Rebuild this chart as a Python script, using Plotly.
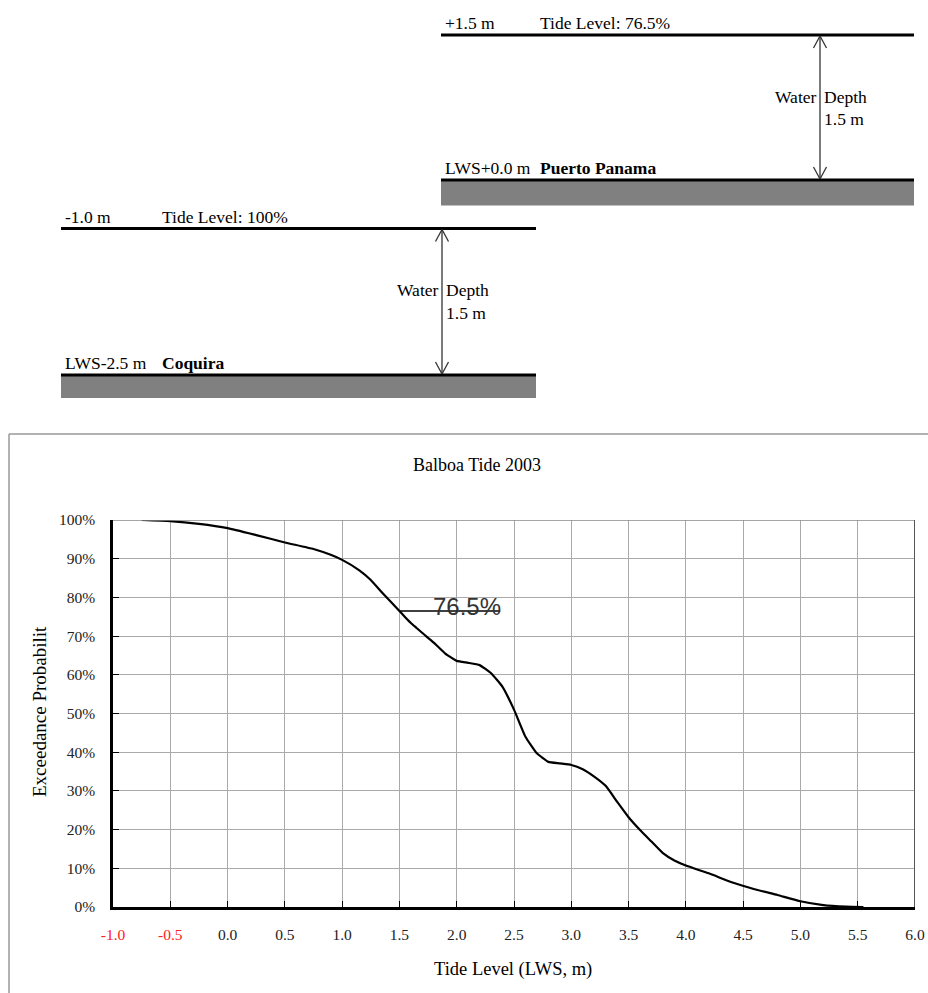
import plotly.graph_objects as go

# ---------------- data ----------------
tide_level = [-0.75, -0.5, -0.25, 0.0, 0.25, 0.5, 0.75, 0.9, 1.0, 1.15, 1.25, 1.35, 1.5,
              1.55, 1.6, 1.65, 1.7, 1.8, 1.9, 2.0, 2.1, 2.2, 2.3, 2.4, 2.5, 2.6, 2.7, 2.8, 2.9, 3.0,
              3.1, 3.2, 3.3, 3.4, 3.5, 3.6, 3.7, 3.8, 3.9, 4.0, 4.2, 4.4, 4.6, 4.8, 5.0,
              5.2, 5.4, 5.55]
exceedance = [100.0, 99.7, 99.0, 97.9, 96.1, 94.2, 92.5, 91.0, 89.7, 87.0, 84.5, 81.2, 76.5,
              74.9, 73.4, 72.1, 70.8, 68.3, 65.5, 63.6, 63.1, 62.5, 60.4, 56.9, 51.0, 44.0, 39.7, 37.5, 37.1, 36.7,
              35.6, 33.7, 31.3, 27.2, 23.2, 19.9, 16.9, 13.9, 12.0, 10.7, 8.7, 6.4, 4.6, 3.1, 1.5,
              0.5, 0.1, 0.0]

marker_level = 1.5
marker_prob = 76.5
marker_line_end = 2.38
marker_label = "76.5%"

x_ticks = [-1.0, -0.5, 0.0, 0.5, 1.0, 1.5, 2.0, 2.5, 3.0, 3.5, 4.0, 4.5, 5.0, 5.5, 6.0]
x_ticktext = ['<span style="color:#ff2020">-1.0</span>', '<span style="color:#ff2020">-0.5</span>',
              "0.0", "0.5", "1.0", "1.5", "2.0", "2.5", "3.0", "3.5", "4.0", "4.5", "5.0", "5.5", "6.0"]
y_ticks = [0, 10, 20, 30, 40, 50, 60, 70, 80, 90, 100]
y_ticktext = ["0%", "10%", "20%", "30%", "40%", "50%", "60%", "70%", "80%", "90%", "100%"]

chart_title = "Balboa Tide 2003"
x_title = "Tide Level (LWS, m)"
y_title = "Exceedance Probabilit"

W, H = 928, 993
SERIF = "Liberation Serif, Times New Roman, serif"


def px(x):
    return x / W


def py(y):
    return 1 - y / H


fig = go.Figure()
fig.add_trace(go.Scatter(x=tide_level, y=exceedance, mode="lines",
                         line=dict(color="black", width=2.2, shape="spline", smoothing=0.4),
                         showlegend=False, hoverinfo="skip"))
fig.add_trace(go.Scatter(x=[marker_level, marker_line_end], y=[marker_prob, marker_prob], mode="lines",
                         line=dict(color="black", width=1.5), showlegend=False, hoverinfo="skip"))

shapes = []
annotations = []


def hline(x0, x1, y, w=3, color="black"):
    shapes.append(dict(type="line", xref="paper", yref="paper", x0=px(x0), x1=px(x1),
                       y0=py(y), y1=py(y), line=dict(color=color, width=w)))


def vline(x, y0, y1, w=1.3, color="#333333"):
    shapes.append(dict(type="line", xref="paper", yref="paper", x0=px(x), x1=px(x),
                       y0=py(y0), y1=py(y1), line=dict(color=color, width=w)))


def rect(x0, y0, x1, y1, fill):
    shapes.append(dict(type="rect", xref="paper", yref="paper", x0=px(x0), x1=px(x1),
                       y0=py(y1), y1=py(y0), fillcolor=fill, line=dict(width=0)))


def vhead(x, ytip, direction):
    # open V arrow head
    d = 12 * direction
    for dx in (-6.5, 6.5):
        shapes.append(dict(type="line", xref="paper", yref="paper", x0=px(x), y0=py(ytip),
                           x1=px(x + dx), y1=py(ytip + d), line=dict(color="#333333", width=1.3)))


def text(x, y, s, anchor="left", size=17.5, font=SERIF, color="black", angle=0):
    annotations.append(dict(xref="paper", yref="paper", x=px(x), y=py(y), text=s, showarrow=False,
                            xanchor=anchor, yanchor="middle", textangle=angle,
                            font=dict(family=font, size=size, color=color)))


# ---- Puerto Panama block ----
hline(441, 914, 35)
rect(441, 181, 914, 205.5, "#808080")
hline(441, 914, 180)
vline(820, 37, 178)
vhead(820, 36, 1)
vhead(820, 179, -1)
text(443, 23, "+1.5 m")
text(538, 23, "Tide Level: 76.5%")
text(819, 97, "Water", anchor="right")
text(822, 97, "Depth")
text(822, 119, "1.5 m")
text(443, 168, "LWS+0.0 m")
text(538, 168, "<b>Puerto Panama</b>")

# ---- Coquira block ----
hline(61, 536, 228.5)
rect(61, 376, 536, 398, "#808080")
hline(61, 536, 375)
vline(442, 230, 373)
vhead(442, 229.5, 1)
vhead(442, 374, -1)
text(63, 217, "-1.0 m")
text(160, 217, "Tide Level: 100%")
text(441, 290, "Water", anchor="right")
text(444, 290, "Depth")
text(444, 313, "1.5 m")
text(63, 363, "LWS-2.5 m")
text(160, 363, "<b>Coquira</b>")

# ---- chart frame ----
hline(9, 928, 434, w=1.5, color="#999999")
vline(9, 434, 993, w=1.5, color="#999999")

# plot top / right borders
shapes.append(dict(type="line", xref="x", yref="y", x0=-1, x1=6, y0=100, y1=100,
                   line=dict(color="#888888", width=1.5)))
shapes.append(dict(type="line", xref="x", yref="y", x0=6, x1=6, y0=0, y1=100,
                   line=dict(color="#555555", width=2)))

# titles
text(477, 465, chart_title, anchor="center", size=18)
text(513, 969, x_title, anchor="center", size=18.5)
text(39, 712, y_title, anchor="center", size=19, angle=-90)

# 76.5% label
annotations.append(dict(xref="x", yref="y", x=2.09, y=77.7, text=marker_label, showarrow=False,
                        xanchor="center", yanchor="middle",
                        font=dict(family="Liberation Sans, Arial, sans-serif", size=24, color="#333333")))

fig.update_layout(
    width=W, height=H, margin=dict(l=0, r=0, t=0, b=0),
    paper_bgcolor="white", plot_bgcolor="white",
    font=dict(family=SERIF, color="black"),
    shapes=shapes, annotations=annotations, showlegend=False,
    xaxis=dict(domain=[px(113), px(915)], range=[-1, 6], tickvals=x_ticks, ticktext=x_ticktext,
               showgrid=True, gridcolor="#aaaaaa", gridwidth=1, zeroline=False,
               showline=True, linecolor="black", linewidth=2.5,
               ticks="inside", ticklen=6, tickcolor="black", tickwidth=1,
               tickfont=dict(family=SERIF, size=15.5, color="#222222"),
               ticklabelstandoff=12, automargin=False, fixedrange=True),
    yaxis=dict(domain=[py(907), py(520)], range=[0, 100], tickvals=y_ticks, ticktext=y_ticktext,
               showgrid=True, gridcolor="#aaaaaa", gridwidth=1, zeroline=False,
               showline=True, linecolor="black", linewidth=2.5,
               ticks="inside", ticklen=6, tickcolor="black", tickwidth=1,
               tickfont=dict(family=SERIF, size=15.5, color="#222222"),
               ticklabelstandoff=12, automargin=False, fixedrange=True),
)

fig.write_html("out.html", config={"displayModeBar": False},
               post_script="document.body.style.margin='0';document.body.style.overflow='hidden';")
